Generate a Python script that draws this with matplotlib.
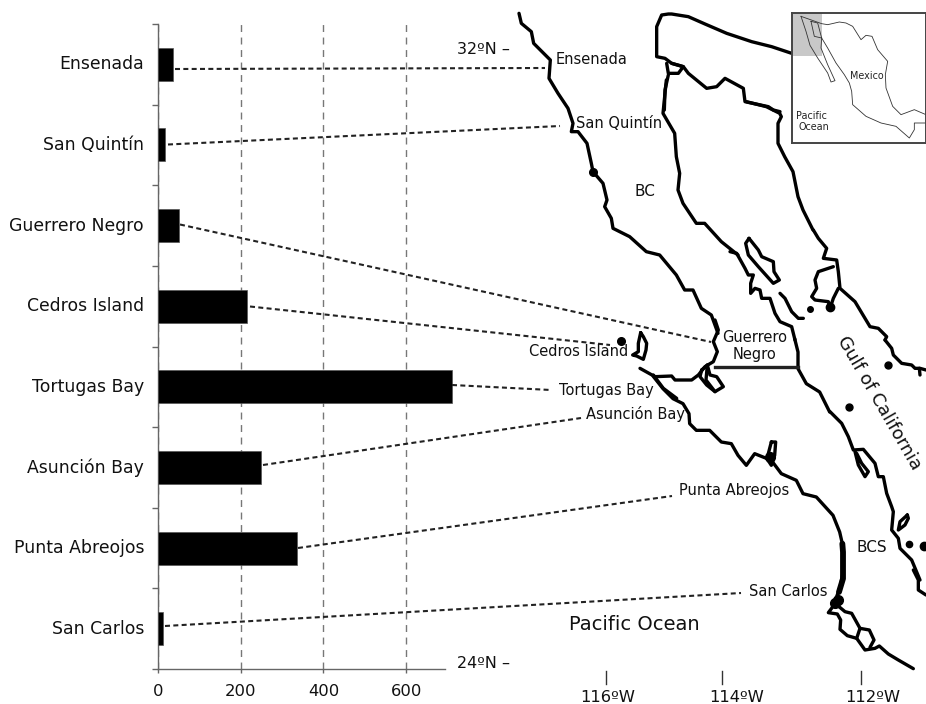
import matplotlib
matplotlib.use('Agg')
import matplotlib.pyplot as plt
from matplotlib.transforms import ScaledTranslation

# bar chart data
sites = ['Ensenada', 'San Quintín', 'Guerrero Negro', 'Cedros Island',
         'Tortugas Bay', 'Asunción Bay', 'Punta Abreojos', 'San Carlos']
values = [36, 18, 50, 215, 710, 250, 335, 11]
x_ticks = [0, 200, 400, 600]

# connector ends on the map, figure pixels
link_x0 = [175, 168, 180, 250, 452, 263, 298, 165]
link_y0 = [69, 144.5, 224.5, 306.5, 385, 465, 548, 626]
link_x1 = [545, 560, 711, 610, 551, 581, 672, 741]
link_y1 = [68, 126, 342, 345, 390, 418, 496, 593]

# map traces in 3x crop units
# each crop has its own origin, see crop() below
north_coast = [(168, 40), (175, 70), (205, 95), (212, 130), (262, 180), (258, 235), (285, 280),
               (315, 325), (330, 370), (325, 395), (345, 395), (372, 430), (385, 490), (390, 515),
               (420, 550), (432, 600), (425, 620), (445, 655), (450, 685), (500, 710), (550, 755),
               (590, 765), (640, 825), (665, 870), (690, 870), (715, 925), (745, 945), (765, 1000)]
north_gulf = [(610, 240), (600, 340), (635, 400), (640, 470), (650, 520), (645, 570),
              (660, 610), (700, 670), (725, 670), (775, 725), (825, 765)]
mainland_n = [(850, 305), (910, 320), (950, 340), (955, 350), (945, 370), (945, 430), (965, 470),
              (990, 515), (1005, 590), (1020, 630), (1050, 690)]

# crop (655, 10): head of the gulf
gulf_head = [(410, 130), (350, 110), (290, 95), (215, 70), (150, 42), (100, 20), (50, 12), (40, 12),
             (20, 15), (5, 50), (5, 140), (30, 145), (50, 160), (85, 170), (100, 190), (155, 235),
             (185, 230), (210, 205), (265, 235), (270, 275), (340, 290), (355, 300), (375, 305)]
delta = [(35, 160), (40, 190), (70, 190), (85, 170), (50, 160)]
delta_down = [(40, 195), (30, 240), (28, 300)]

# crop (730, 230): midriff islands
pen_mid = [(0, 65), (20, 70), (45, 115), (55, 135), (70, 135), (62, 160), (62, 190), (75, 175),
           (90, 180), (95, 205), (120, 205), (135, 250), (150, 275), (185, 290), (195, 330)]
main_mid = [(250, 0), (265, 25), (290, 55), (280, 85), (320, 90), (325, 125), (330, 175), (375, 215),
            (405, 265), (420, 290), (445, 295), (470, 320), (465, 330)]
guarda = [(57, 25), (47, 40), (55, 75), (85, 110), (130, 160), (148, 150), (132, 125), (130, 95),
          (95, 80), (85, 60), (57, 25)]
isle_chain = [(150, 190), (165, 205), (185, 245), (205, 265), (220, 265)]
tiburon = [(310, 110), (265, 125), (255, 150), (260, 175), (245, 200), (255, 210), (295, 215),
           (300, 235), (310, 205), (325, 175)]

# crop (620, 320): Vizcaino bay and Cedros
bay_coast = [(285, 0), (295, 30), (280, 65), (292, 95), (280, 125), (255, 140), (235, 165), (215, 180),
             (165, 180), (155, 168), (105, 170), (60, 145)]
bay_south = [(100, 165), (130, 205), (170, 235)]
lagoon = [(245, 150), (240, 170), (260, 195), (285, 215), (310, 200), (290, 170), (270, 165),
          (262, 135), (245, 150)]
lagoon_in = [(262, 135), (258, 180), (285, 215)]
cedros = [(62, 38), (55, 70), (55, 95), (38, 105), (50, 108), (70, 118), (78, 90), (80, 70), (70, 50), (62, 38)]

# crop (463, 352): south pacific side
south_pacific = [(570, 72), (600, 110), (630, 140), (660, 155), (678, 185), (680, 215), (700, 235),
                 (740, 235), (775, 270), (805, 275), (825, 310), (850, 340), (875, 305), (900, 315),
                 (925, 325), (955, 365), (1000, 385), (1020, 425), (1060, 435), (1110, 490),
                 (1130, 540), (1138, 575)]
thick_coast = [(1138, 575), (1140, 600), (1140, 680), (1128, 720)]
south_gulf_n = [(995, -40), (1005, 0), (1005, 50), (1030, 95), (1070, 120), (1100, 180)]
ignacio = [(925, 270), (938, 270), (935, 310), (925, 340), (912, 320), (925, 270)]

# crop (810, 570): Magdalena bay
magdalena = [(100, 0), (92, 45), (80, 80), (70, 108), (55, 128), (82, 132), (92, 150), (90, 178),
             (112, 197), (140, 205), (165, 240), (195, 235), (208, 228), (235, 252), (265, 270), (310, 296)]
magdalena_top = [(75, 100), (105, 125), (125, 130), (150, 175), (178, 180), (192, 210), (180, 232)]
magdalena_bar = [(150, 175), (140, 205)]
cape_gulf = [(310, 0), (325, 30), (325, 60), (348, 75)]

# crop (830, 340): south gulf side
main_s = [(165, 0), (185, 25), (190, 45), (215, 70), (245, 75), (255, 85), (270, 85), (288, 90)]
main_s_spur = [(268, 85), (270, 105)]
south_gulf = [(0, 215), (35, 250), (55, 290), (70, 330), (100, 328), (135, 370), (145, 410), (160, 410),
              (170, 460), (185, 500), (190, 515), (185, 570), (205, 595), (210, 625), (245, 660), (270, 720)]
carmen = [(75, 335), (85, 375), (105, 410), (115, 395), (95, 370), (80, 340)]
espiritu = [(232, 525), (210, 545), (205, 570), (225, 555), (235, 535), (232, 525)]

# small islands as dots, figure pixels
dot_x = [620.7, 593, 810, 830, 888, 849, 909, 924, 835, 838, 770]
dot_y = [340.7, 172, 309, 307, 365, 406.5, 544, 546, 603, 600, 457]
dot_size = [5.5, 5.5, 4, 6, 5, 5, 4.5, 6, 7, 7, 7]

# inset map traces, crop (786, 8)
mex_north = [(45, 25), (107, 47), (125, 50), (160, 42), (180, 45), (200, 55), (225, 95), (240, 82),
             (258, 85), (275, 125), (305, 160), (298, 200), (300, 240), (320, 295), (345, 320),
             (385, 305), (420, 320)]
mex_west = [(107, 90), (125, 120), (150, 165), (175, 200), (190, 225), (197, 250), (200, 290), (240, 325),
            (285, 345), (330, 355), (370, 390), (385, 365), (385, 345), (420, 345)]
baja_outer = [(45, 25), (60, 70), (72, 112), (95, 150), (125, 195), (135, 222), (147, 218), (125, 170),
              (105, 120), (107, 90)]
baja_box = [(75, 40), (95, 45), (107, 90), (85, 85), (75, 40)]


def crop(pts, x0, y0):
    return [x0 + p[0] / 3 for p in pts], [y0 + p[1] / 3 for p in pts]


fig = plt.figure(figsize=(9.26, 7.04), dpi=100)

# left panel
ax = fig.add_axes([158 / 926, 1 - 669 / 704, (445 - 158) / 926, 645 / 704])
pos = list(range(len(sites)))
ax.grid(axis='x', color='#777777', linestyle=(0, (5, 4)), linewidth=1.0)
ax.set_axisbelow(True)
ax.barh(pos, values, height=0.41, color='black', edgecolor='#555555', linewidth=0.5, clip_on=False, zorder=3)
ax.set_xlim(0, 694)
ax.set_ylim(7.5, -0.5)
ax.set_xticks(x_ticks)
ax.set_yticks([i - 0.5 for i in range(len(sites) + 1)])
ax.set_yticklabels([])
ax.set_yticks(pos, minor=True)
ax.set_yticklabels(sites, minor=True, fontsize=12.4, color='#111111')
ax.tick_params(axis='y', which='major', length=4, width=1, color='#666666')
ax.tick_params(axis='y', which='minor', length=0, pad=10)
ax.tick_params(axis='x', length=3, width=1, color='#666666', labelsize=11.8, labelcolor='#111111', pad=8)
for lab in ax.get_yticklabels(minor=True):
    lab.set_transform(lab.get_transform() + ScaledTranslation(0, 2 / 100, fig.dpi_scale_trans))
for s in ['top', 'right']:
    ax.spines[s].set_visible(False)
for s in ['left', 'bottom']:
    ax.spines[s].set_color('#666666')
    ax.spines[s].set_linewidth(1.0)

# overlay in figure pixels for the map and the connectors
ov = fig.add_axes([0, 0, 1, 1])
ov.set_xlim(0, 926)
ov.set_ylim(704, 0)
ov.axis('off')
ov.patch.set_alpha(0)

map_groups = [
    ((463, 0), [north_coast, north_gulf, mainland_n]),
    ((655, 10), [gulf_head, delta, delta_down]),
    ((730, 230), [pen_mid, main_mid, guarda, isle_chain, tiburon]),
    ((620, 320), [bay_coast, bay_south, lagoon, lagoon_in, cedros]),
    ((463, 352), [south_pacific, south_gulf_n, ignacio]),
    ((810, 570), [magdalena, magdalena_top, magdalena_bar, cape_gulf]),
    ((830, 340), [main_s, main_s_spur, south_gulf, carmen, espiritu]),
]
for (x0, y0), traces in map_groups:
    for tr in traces:
        ov.plot(*crop(tr, x0, y0), color='black', lw=2.4, solid_joinstyle='round', solid_capstyle='round')
ov.plot(*crop(thick_coast, 463, 352), color='black', lw=4.2, solid_capstyle='round')
ov.plot([715, 798], [367, 367], color='#222222', lw=2.4)
for dx, dy, ds in zip(dot_x, dot_y, dot_size):
    ov.plot(dx, dy, marker='o', ms=ds, color='black')

for x0, y0, x1, y1 in zip(link_x0, link_y0, link_x1, link_y1):
    ov.plot([x0, x1], [y0, y1], color='#222222', lw=1.5, linestyle=(0, (2.4, 1.6)))

# map labels
small = 10.5
ov.text(556, 59, 'Ensenada', fontsize=small, va='center', color='#111111')
ov.text(576, 123, 'San Quintín', fontsize=small, va='center', color='#111111')
ov.text(645, 191, 'BC', fontsize=11, ha='center', va='center', color='#111111')
ov.text(755, 337, 'Guerrero', fontsize=small, ha='center', va='center', color='#111111')
ov.text(755, 354, 'Negro', fontsize=small, ha='center', va='center', color='#111111')
ov.text(628, 352, 'Cedros Island', fontsize=small, ha='right', va='center', color='#111111')
ov.text(559, 390, 'Tortugas Bay', fontsize=small, va='center', color='#111111')
ov.text(586, 414, 'Asunción Bay', fontsize=small, va='center', color='#111111')
ov.text(679, 490, 'Punta Abreojos', fontsize=small, va='center', color='#111111')
ov.text(749, 591, 'San Carlos', fontsize=small, va='center', color='#111111')
ov.text(857, 547, 'BCS', fontsize=11, va='center', color='#111111')
ov.text(634, 625, 'Pacific Ocean', fontsize=14, ha='center', va='center', color='#111111')
ov.text(879, 403, 'Gulf of California', fontsize=13, rotation=-60, rotation_mode='anchor',
        ha='center', va='center', color='#111111')

# lat / lon marks
ov.text(510, 50, '32ºN –', fontsize=11.5, ha='right', va='center', color='#111111')
ov.text(510, 663, '24ºN –', fontsize=11.5, ha='right', va='center', color='#111111')
for x_tick, x_lab, lab in zip([606, 722, 861], [608, 737, 873], ['116ºW', '114ºW', '112ºW']):
    ov.plot([x_tick, x_tick], [671, 684], color='#333333', lw=1.0)
    ov.text(x_lab, 698, lab, fontsize=11.8, ha='center', va='center', color='#111111')

# inset
ins = fig.add_axes([792 / 926, 1 - 143 / 704, 134 / 926, 130 / 704])
ins.set_xlim(792, 926)
ins.set_ylim(143, 13)
ins.set_xticks([])
ins.set_yticks([])
ins.axvspan(792, 822, ymin=(143 - 56) / 130, ymax=1, color='#c8c8c8', lw=0)
for tr in [mex_north, mex_west, baja_outer, baja_box]:
    ins.plot(*crop(tr, 786, 8), color='#333333', lw=0.6)
for s in ins.spines.values():
    s.set_color('#444444')
    s.set_linewidth(1.4)
ins.text(867, 76, 'Mexico', fontsize=6.9, ha='center', va='center', color='#222222')
ins.text(811, 116, 'Pacific', fontsize=6.9, ha='center', va='center', color='#222222')
ins.text(814, 127, 'Ocean', fontsize=6.9, ha='center', va='center', color='#222222')

fig.savefig('out.png', dpi=100, facecolor='white')
